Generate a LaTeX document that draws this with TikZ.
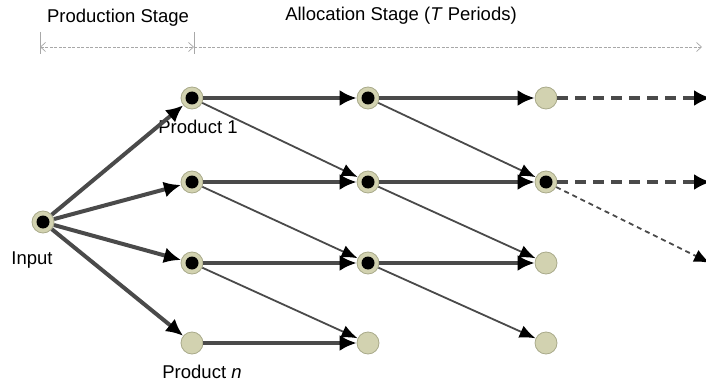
\documentclass[tikz,border=0pt]{standalone}
\usepackage{fontspec}
\setmainfont{Liberation Sans}
\usepackage{tikz}
\usetikzlibrary{arrows.meta,positioning}
\definecolor{stateFill}{HTML}{D2D2B0}
\definecolor{stateDraw}{HTML}{A9AA8A}
\definecolor{flowGray}{HTML}{4A4A4A}
\definecolor{dimGray}{HTML}{A8A8A8}

\begin{document}
\begin{tikzpicture}[
    x=1pt,y=-1pt,
    >=Latex,
    font=\fontsize{18.5}{22}\selectfont,
    st/.style={circle,fill=stateFill,draw=stateDraw,line width=0.8pt,
               minimum size=22pt,inner sep=0pt},
    act/.style={st,path picture={\fill[black]
               (path picture bounding box.center) circle (6.5pt);}},
    mainarr/.style={-{Latex[length=17pt,width=16pt,color=black]},
                    line width=4pt,flowGray},
    sidearr/.style={-{Latex[length=16pt,width=13pt,color=black]},
                    line width=1.8pt,flowGray},
    mainfut/.style={mainarr,dash pattern=on 11pt off 7pt},
    sidefut/.style={sidearr,dash pattern=on 5pt off 4pt},
    dim/.style={dimGray,line width=0.7pt,dash pattern=on 3pt off 1.5pt,
                arrows={Straight Barb[length=5pt,width=9pt]-Straight Barb[length=5pt,width=9pt]}},
    tick/.style={dimGray,line width=0.7pt}
  ]
  \useasboundingbox (0,0) rectangle (706,385);
  %% Stage headings and extent
  \node (hprod) at (118,18) {Production Stage};
  \node (halloc) at (401,16) {Allocation Stage (\textit{T} Periods)};
  \coordinate (t1a) at (40,32);  \coordinate (t1b) at (40,54);
  \coordinate (t2a) at (194,32); \coordinate (t2b) at (194,54);
  \coordinate (d1) at (40,47);   \coordinate (d2) at (194,47);
  \coordinate (d3) at (702,47);
  \draw[tick] (t1a) -- (t1b);
  \draw[tick] (t2a) -- (t2b);
  \draw[dim] (d1) -- (d2);
  \draw[dim,arrows={-Straight Barb[length=5pt,width=9pt]}] (d2) -- (d3);
  %% Input
  \node[act] (inp) at (43,222) {};
  %% Production column
  \node[act] (a1) at (192,98)  {};
  \node[act] (a2) at (192,182) {};
  \node[act] (a3) at (192,263) {};
  \node[st]  (a4) at (192,343) {};
  %% First allocation period
  \node[act] (b1) at (368,98)  {};
  \node[act] (b2) at (368,182) {};
  \node[act] (b3) at (368,263) {};
  \node[st]  (b4) at (368,343) {};
  %% Second allocation period
  \node[st]  (c1) at (546,98)  {};
  \node[act] (c2) at (546,182) {};
  \node[st]  (c3) at (546,263) {};
  \node[st]  (c4) at (546,343) {};
  %% Later periods (cut off)
  \coordinate (e1) at (711,98);
  \coordinate (e2) at (711,182);
  \coordinate (e3) at (710,263);
  %% Labels
  \node (linp) at (32,260)  {Input};
  \node (la1)  at (198,127) {Product 1};
  \node (la4)  at (202,372) {Product \textit{n}};
  %% Production flows
  \foreach \i in {1,...,4}
    \draw[mainarr] (inp) -- (a\i);
  %% Allocation flows
  \foreach \i in {1,...,4}
    \draw[mainarr] (a\i) -- (b\i);
  \foreach \i in {1,...,3}
    \draw[mainarr] (b\i) -- (c\i);
  \foreach \i/\j in {1/2,2/3,3/4} {
    \draw[sidearr] (a\i) -- (b\j);
    \draw[sidearr] (b\i) -- (c\j);
  }
  %% Continuation
  \draw[mainfut] (c1) -- (e1);
  \draw[mainfut] (c2) -- (e2);
  \draw[sidefut] (c2) -- (e3);
\end{tikzpicture}
\end{document}
